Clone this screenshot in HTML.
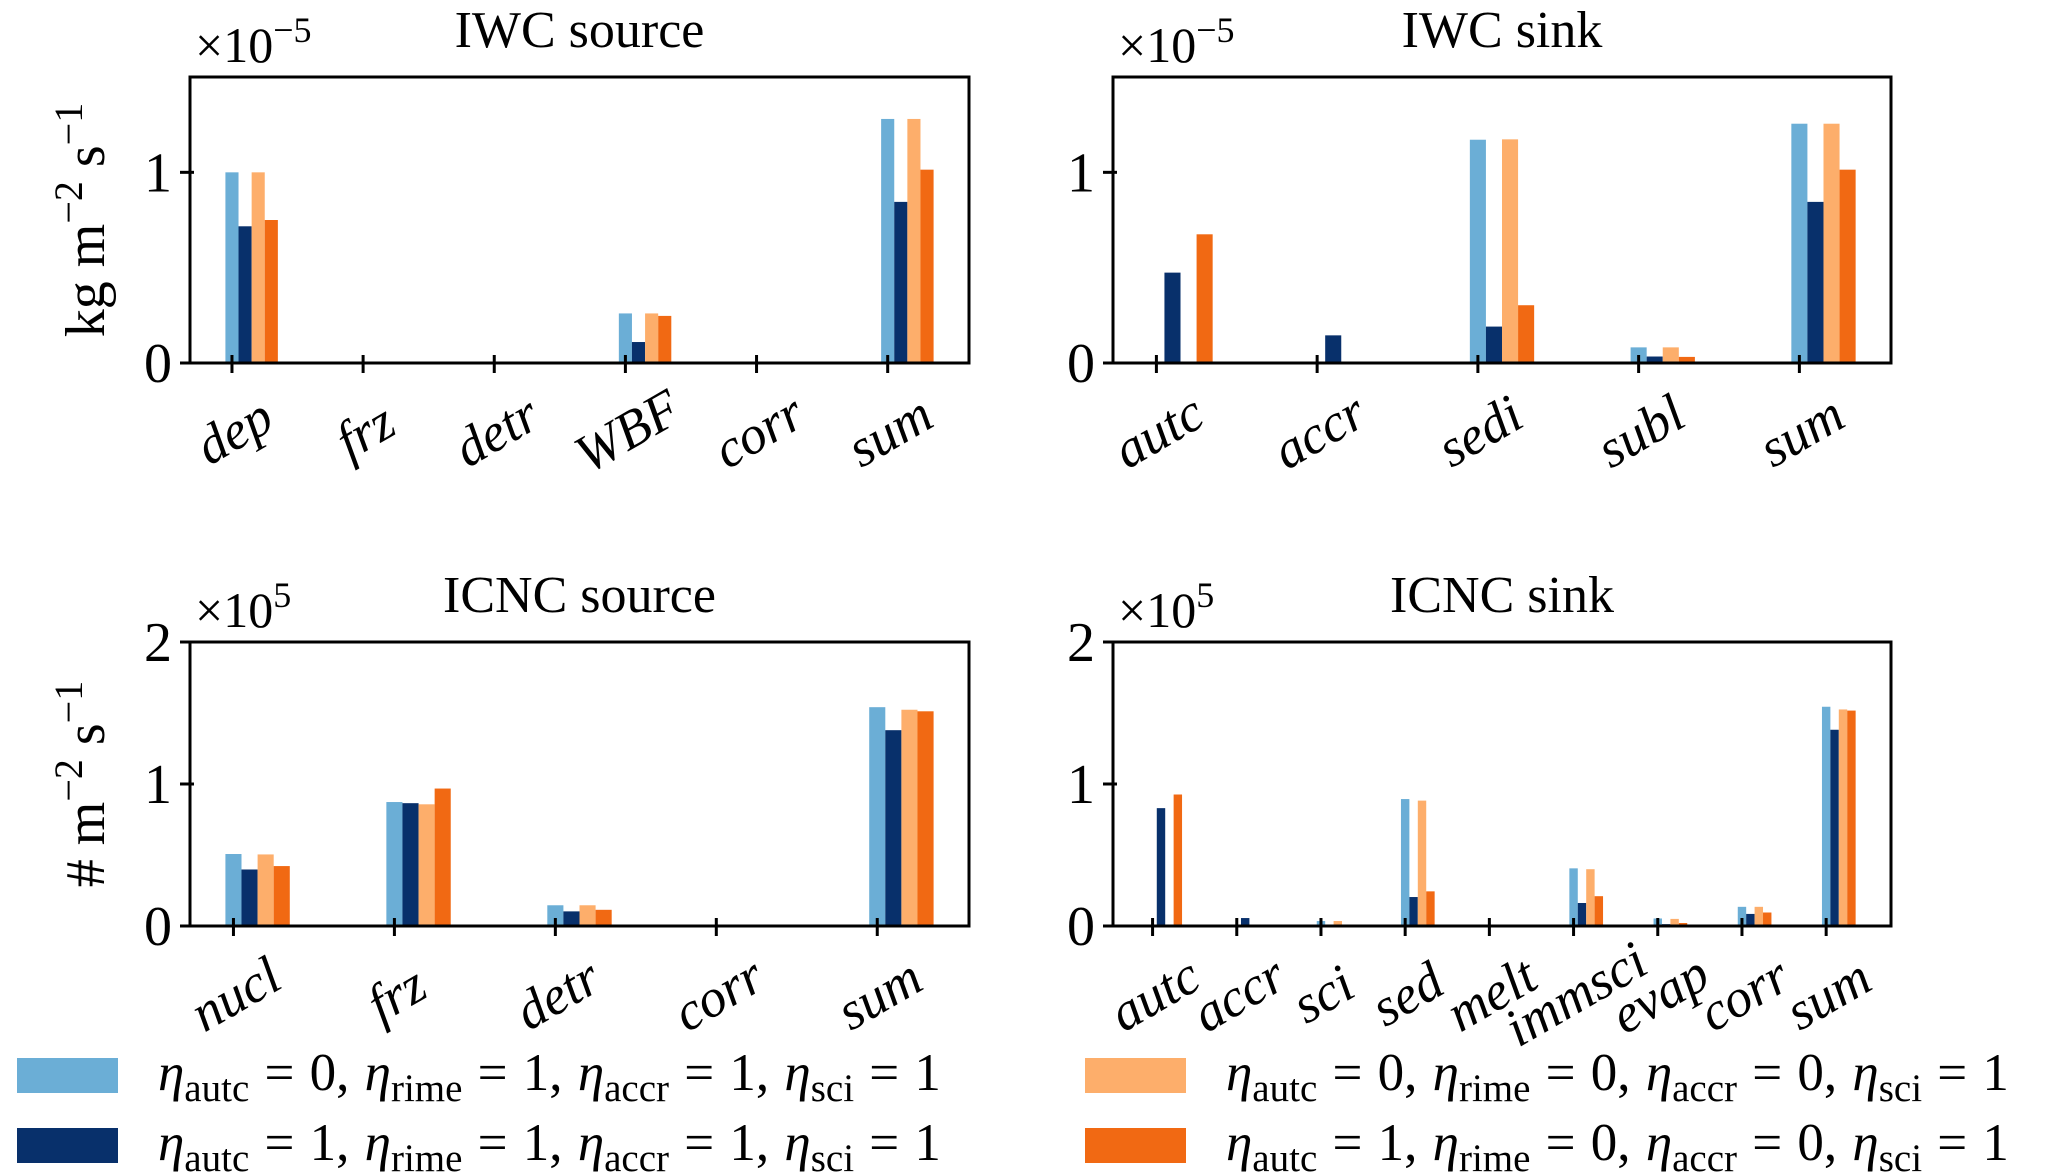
<!DOCTYPE html>
<html><head><meta charset="utf-8"><style>
body{margin:0;background:#fff}
svg{display:block}
text{font-family:"Liberation Serif",serif;fill:#000}
</style></head><body>
<svg id="fig" width="2067" height="1172" viewBox="0 0 2067 1172" xmlns="http://www.w3.org/2000/svg"></svg>
<script>
// ---- data ----
const iwcSrcCats = ["dep","frz","detr","WBF","corr","sum"];
const iwcSrcS1 = [1.0, 0, 0, 0.26, 0, 1.28];
const iwcSrcS2 = [0.717, 0, 0, 0.11, 0, 0.845];
const iwcSrcS3 = [1.0, 0, 0, 0.26, 0, 1.28];
const iwcSrcS4 = [0.75, 0, 0.004, 0.247, 0, 1.014];

const iwcSinkCats = ["autc","accr","sedi","subl","sum"];
const iwcSinkS1 = [0, 0, 1.171, 0.082, 1.255];
const iwcSinkS2 = [0.474, 0.145, 0.191, 0.034, 0.845];
const iwcSinkS3 = [0, 0, 1.173, 0.082, 1.255];
const iwcSinkS4 = [0.675, 0, 0.303, 0.032, 1.014];

const icncSrcCats = ["nucl","frz","detr","corr","sum"];
const icncSrcS1 = [0.507, 0.873, 0.146, 0, 1.541];
const icncSrcS2 = [0.398, 0.865, 0.103, 0, 1.379];
const icncSrcS3 = [0.504, 0.857, 0.146, 0, 1.523];
const icncSrcS4 = [0.422, 0.968, 0.114, 0, 1.512];

const icncSinkCats = ["autc","accr","sci","sed","melt","immsci","evap","corr","sum"];
const icncSinkS1 = [0, 0, 0.035, 0.894, 0, 0.406, 0.053, 0.135, 1.544];
const icncSinkS2 = [0.83, 0.056, 0.005, 0.204, 0, 0.162, 0.013, 0.085, 1.382];
const icncSinkS3 = [0, 0, 0.035, 0.883, 0, 0.40, 0.05, 0.135, 1.525];
const icncSinkS4 = [0.926, 0, 0, 0.244, 0, 0.21, 0.021, 0.095, 1.517];

const iwcTicks = [0, 1];
const icncTicks = [0, 1, 2];

const colors = ["#6baed6","#08306b","#fdae6b","#f16913"];
const NS = "http://www.w3.org/2000/svg";
const svg = document.getElementById("fig");
function mk(tag, attrs, parent){
  const e = document.createElementNS(NS, tag);
  for (const k in attrs) e.setAttribute(k, attrs[k]);
  (parent||svg).appendChild(e);
  return e;
}

function panel(opt){
  const g = mk("g", {});
  
  
  const {L,R,T,B,ymax,cats,series,ticks} = opt;
  const n = cats.length;
  const lo = -0.05, hi = (n-1)+0.35, m = (hi-lo)*0.05;
  const x0 = lo-m, x1 = hi+m;
  const xs = v => L + (v-x0)/(x1-x0)*(R-L);
  const ys = v => B - v/ymax*(B-T);
  series.forEach((s, si) => {
    s.forEach((v, i) => {
      if (v <= 0) return;
      const xa = xs(i + 0.1*si - 0.05), xb = xs(i + 0.1*si + 0.05);
      const r = mk("rect", {x:xa, y:ys(v), width:xb-xa, height:ys(0)-ys(v), fill:colors[si]}, g);
      
      
    });
  });
  const fr = mk("rect", {x:L, y:T, width:R-L, height:B-T, fill:"none", stroke:"#000", "stroke-width":3}, g);
  
  
  cats.forEach((c, i) => {
    const x = xs(i);
    mk("line", {x1:x, x2:x, y1:B-8, y2:B+10, stroke:"#000", "stroke-width":3}, g);
    const t = mk("text", {x:0, y:0, "font-size":54, "font-style":"italic", "text-anchor":"middle", "dominant-baseline":"central",
      transform:`translate(${x+2},${B+68}) rotate(-30)`}, g);
    t.textContent = c;
    
    
  });
  ticks.forEach(v => {
    const y = ys(v);
    mk("line", {x1:L-10, x2:L+4, y1:y, y2:y, stroke:"#000", "stroke-width":3}, g);
    const t = mk("text", {x:L-18, y:y+19, "font-size":56, "text-anchor":"end"}, g);
    t.textContent = v;
    
    
  });
  const ti = mk("text", {x:(L+R)/2, y:T-30, "font-size":52, "text-anchor":"middle"}, g);
  ti.textContent = opt.title;
  
  
  const of = mk("text", {x:L+5, y:T-15, "font-size":50}, g);
  of.innerHTML = '×10<tspan dy="-20" font-size="36">' + opt.exp + '</tspan>';
  
  
  if (opt.ylabel){
    const yl = mk("text", {x:0, y:0, "font-size":56, "text-anchor":"middle", transform:`translate(${L-86},${(T+B)/2}) rotate(-90)`}, g);
    yl.innerHTML = opt.ylabel;
    
    
  }
}

const unitsTail = ' m<tspan dy="-22" font-size="40">−2</tspan><tspan dy="22"> s</tspan><tspan dy="-22" font-size="40">−1</tspan>';
panel({name:"iwc-source-panel", L:190, R:969, T:77, B:363, ymax:1.5, cats:iwcSrcCats,
  series:[iwcSrcS1,iwcSrcS2,iwcSrcS3,iwcSrcS4], ticks:iwcTicks, title:"IWC source", exp:"−5", ylabel:"kg" + unitsTail});
panel({name:"iwc-sink-panel", L:1113, R:1891, T:77, B:363, ymax:1.5, cats:iwcSinkCats,
  series:[iwcSinkS1,iwcSinkS2,iwcSinkS3,iwcSinkS4], ticks:iwcTicks, title:"IWC sink", exp:"−5"});
panel({name:"icnc-source-panel", L:190, R:969, T:642, B:926, ymax:2, cats:icncSrcCats,
  series:[icncSrcS1,icncSrcS2,icncSrcS3,icncSrcS4], ticks:icncTicks, title:"ICNC source", exp:"5", ylabel:"# " + unitsTail});
panel({name:"icnc-sink-panel", L:1113, R:1891, T:642, B:926, ymax:2, cats:icncSinkCats,
  series:[icncSinkS1,icncSinkS2,icncSinkS3,icncSinkS4], ticks:icncTicks, title:"ICNC sink", exp:"5"});

// legend
const legendVals = [["0","1","1","1"],["1","1","1","1"],["0","0","0","1"],["1","0","0","1"]];
const legendPos = [[17,1058],[17,1128],[1085,1058],[1085,1128]];
const lg = mk("g", {});


legendVals.forEach((v, i) => {
  const [px, py] = legendPos[i];
  const r = mk("rect", {x:px, y:py, width:101, height:35, fill:colors[i]}, lg);
  
  
  const t = mk("text", {x:px+141, y:py+32, "font-size":53, "word-spacing":"2"}, lg);
  const sub = s => '<tspan dy="11" font-size="39">' + s + '</tspan><tspan dy="-11">';
  t.innerHTML = '<tspan font-style="italic">η</tspan>' + sub('autc') + ' = ' + v[0] + ', </tspan>' +
    '<tspan font-style="italic">η</tspan>' + sub('rime') + ' = ' + v[1] + ', </tspan>' +
    '<tspan font-style="italic">η</tspan>' + sub('accr') + ' = ' + v[2] + ', </tspan>' +
    '<tspan font-style="italic">η</tspan>' + sub('sci') + ' = ' + v[3] + '</tspan>';
  
  
});
</script>
</body></html>
